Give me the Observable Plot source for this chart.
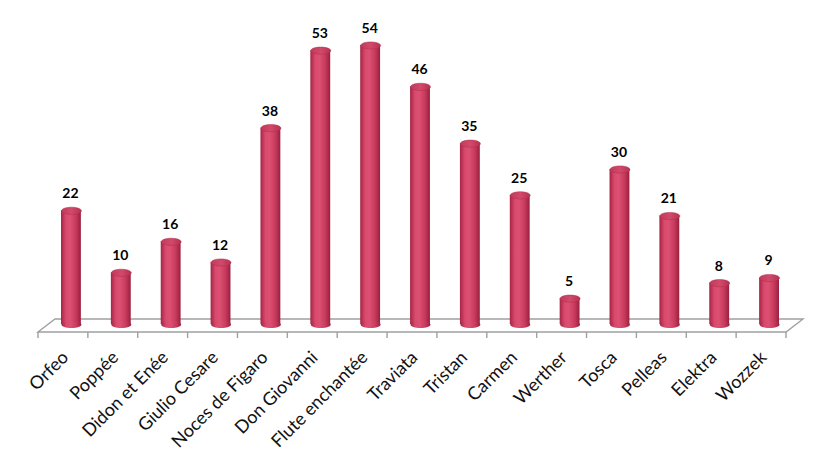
<!DOCTYPE html>
<html>
<head>
<meta charset="utf-8">
<script src="https://cdn.jsdelivr.net/npm/d3@7"></script>
<script src="https://cdn.jsdelivr.net/npm/@observablehq/plot@0.6"></script>
<style>
  html, body { margin: 0; padding: 0; background: #fff; }
  #chart svg { display: block; }
</style>
</head>
<body>
<svg width="0" height="0" style="position:absolute">
  <defs>
    <linearGradient id="cyl" x1="0" x2="1" y1="0" y2="0">
      <stop offset="0%" stop-color="#a52444"/>
      <stop offset="25%" stop-color="#d94a6d"/>
      <stop offset="45%" stop-color="#dc5073"/>
      <stop offset="75%" stop-color="#c73a5c"/>
      <stop offset="100%" stop-color="#9a1f3e"/>
    </linearGradient>
    <linearGradient id="cyltop" x1="0" x2="1" y1="0" y2="0">
      <stop offset="0%" stop-color="#c23a5b"/>
      <stop offset="50%" stop-color="#d24a6b"/>
      <stop offset="100%" stop-color="#b8304f"/>
    </linearGradient>
  </defs>
</svg>
<div id="chart"></div>
<script>
const operas = ["Orfeo", "Poppée", "Didon et Enée", "Giulio Cesare", "Noces de Figaro", "Don Giovanni", "Flute enchantée", "Traviata", "Tristan", "Carmen", "Werther", "Tosca", "Pelleas", "Elektra", "Wozzek"];
const counts = [22, 10, 16, 12, 38, 53, 54, 46, 35, 25, 5, 30, 21, 8, 9];

const data = operas.map((name, i) => ({name, value: counts[i]}));

const k = 0.5523;
const ellipse = {
  draw(ctx) {
    const rx = 10, ry = 3.6;
    ctx.moveTo(-rx, 0);
    ctx.bezierCurveTo(-rx, -k * ry, -k * rx, -ry, 0, -ry);
    ctx.bezierCurveTo(k * rx, -ry, rx, -k * ry, rx, 0);
    ctx.bezierCurveTo(rx, k * ry, k * rx, ry, 0, ry);
    ctx.bezierCurveTo(-k * rx, ry, -rx, k * ry, -rx, 0);
    ctx.closePath();
  }
};

const DX = 8;
const gray = "#a0a0a0";

function floor(index, scales) {
  const x = scales.x, y = scales.y;
  const dom = x.domain();
  const bw = x.bandwidth();
  const x0 = x(dom[0]);
  const x1 = x(dom[dom.length - 1]) + bw;
  const yb = y(0);
  const yf = yb + 8;   // front edge
  const ybk = yb - 5;  // back edge
  const off = 17;
  const g = d3.create("svg:g")
    .attr("fill", "none")
    .attr("stroke", gray)
    .attr("stroke-width", 1.4);
  g.append("path").attr("d",
    `M${x0},${yf}L${x1},${yf}L${x1 + off},${ybk}L${x0 + off},${ybk}Z`);
  const edges = dom.map(d => x(d)).concat([x1]);
  for (const e of edges) {
    g.append("line").attr("x1", e).attr("x2", e).attr("y1", yf).attr("y2", yf + 6);
  }
  return g.node();
}

const chart = Plot.plot({
  width: 823,
  height: 462,
  marginTop: 10,
  marginBottom: 130,
  marginLeft: 38,
  marginRight: 37,
  x: {domain: operas, padding: 0, round: false, label: null, axis: null},
  y: {domain: [0, 54], range: [324, 45], axis: null},
  style: {fontFamily: "Lato, 'Open Sans', sans-serif", background: "#fff"},
  marks: [
    floor,
    Plot.barY(data, {x: "name", y: "value", fill: "url(#cyl)", insetLeft: 15, insetRight: 15, dx: DX}),
    Plot.dot(data, {x: "name", y: 0, symbol: ellipse, r: 5, fill: "url(#cyl)", stroke: "none", dx: DX}),
    Plot.dot(data, {x: "name", y: "value", symbol: ellipse, r: 5, fill: "url(#cyltop)", stroke: "#b02c4c", strokeWidth: 0.5, dx: DX}),
    Plot.text(data, {x: "name", y: "value", text: d => String(d.value), dy: -17, dx: DX - 1, fontWeight: "bold", fontSize: 14, fill: "#000"}),
    Plot.text(operas, {x: d => d, y: 0, text: d => d, rotate: -45, textAnchor: "end", lineAnchor: "middle", dx: 2, dy: 30, fontSize: 18, fill: "#111"})
  ]
});
document.getElementById("chart").appendChild(chart);
</script>
</body>
</html>
